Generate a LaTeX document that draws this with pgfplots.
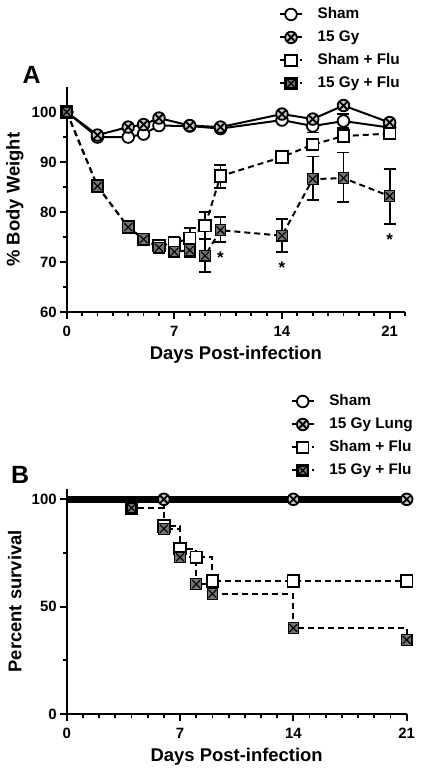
\documentclass[border=0pt]{standalone}
\usepackage{fontspec}
\setmainfont{Liberation Sans}
\usepackage{pgfplots}
\pgfplotsset{compat=1.18}
\pgfdeclareplotmark{xcirc}{%
  \pgfpathcircle{\pgfpointorigin}{\pgfplotmarksize}\pgfusepathqfillstroke
  \pgfpathmoveto{\pgfpoint{-0.707\pgfplotmarksize}{-0.707\pgfplotmarksize}}%
  \pgfpathlineto{\pgfpoint{0.707\pgfplotmarksize}{0.707\pgfplotmarksize}}%
  \pgfpathmoveto{\pgfpoint{-0.707\pgfplotmarksize}{0.707\pgfplotmarksize}}%
  \pgfpathlineto{\pgfpoint{0.707\pgfplotmarksize}{-0.707\pgfplotmarksize}}%
  \pgfusepathqstroke}
\pgfdeclareplotmark{xsq}{%
  \pgfpathrectangle{\pgfpoint{-\pgfplotmarksize}{-\pgfplotmarksize}}{\pgfpoint{2\pgfplotmarksize}{2\pgfplotmarksize}}\pgfusepathqfillstroke
  \pgfsetlinewidth{1.1bp}%
  \pgfpathmoveto{\pgfpoint{-0.75\pgfplotmarksize}{-0.75\pgfplotmarksize}}%
  \pgfpathlineto{\pgfpoint{0.75\pgfplotmarksize}{0.75\pgfplotmarksize}}%
  \pgfpathmoveto{\pgfpoint{-0.75\pgfplotmarksize}{0.75\pgfplotmarksize}}%
  \pgfpathlineto{\pgfpoint{0.75\pgfplotmarksize}{-0.75\pgfplotmarksize}}%
  \pgfusepathqstroke}
\pgfplotsset{
  gp/.style={
    scale only axis, clip=false,
    axis lines=left, axis line style={-, line width=2.2bp},
    tick align=outside, major tick length=6.5bp, minor tick length=4bp,
    tick style={black, line width=1.8bp},
    tick label style={font=\fontsize{15}{18}\selectfont\bfseries},
    xticklabel style={yshift=-4bp},
    /pgf/number format/assume math mode=true,
    every axis x label/.style={at={(rel axis cs:0.5,-0.19)}, anchor=center, font=\fontsize{18.5}{22}\selectfont\bfseries},
    every axis y label/.style={at={(rel axis cs:-0.153,0.5)}, anchor=center, rotate=90, font=\fontsize{18.5}{22}\selectfont\bfseries},
    legend cell align=left,
    legend style={draw=none, fill=none, inner sep=0pt, outer sep=0pt, anchor=north west,
      font=\fontsize{15.4}{18}\selectfont\bfseries,
      nodes={inner sep=4.5bp, text height=11bp, text depth=3bp},
      /tikz/every odd column/.append style={column sep=10bp}},
    legend image code/.code={\draw[mark repeat=2, mark phase=2, ##1] plot coordinates {(0bp,0bp)(11bp,0bp)(22bp,0bp)};},
  },
  dashp/.style={dash pattern=on 6bp off 4bp},
  ocirc/.style={mark=*, mark size=5.8bp, mark options={solid, fill=white, line width=1.8bp}},
  xcircm/.style={mark=xcirc, mark size=5.8bp, mark options={solid, fill=gray!45, line width=1.8bp}},
  osq/.style={mark=square*, mark size=5.8bp, mark options={solid, fill=white, line width=1.8bp}},
  xsqm/.style={mark=xsq, mark size=5.3bp, mark options={solid, fill=black!55, line width=2.8bp}},
  eb/.style={error bars/.cd, y dir=both, y explicit,
    error bar style={solid, line width=1.8bp},
    error mark options={rotate=90, mark size=6bp, line width=1.8bp}},
}
\begin{document}
\begin{tikzpicture}
\path[use as bounding box, fill=white] (0,0) rectangle (421bp,-774bp);
% ---------------- Panel A ----------------
\begin{axis}[gp,
  at={(66.7bp,-312.3bp)}, anchor=south west,
  width=338.3bp, height=225.3bp,
  xmin=0, xmax=22, ymin=60, ymax=105,
  xtick={0,7,14,21}, ytick={60,70,80,90,100},
  minor xtick={1,...,22}, minor ytick={65,75,85,95},
  xlabel={Days Post-infection}, ylabel={\% Body Weight},
  legend style={at={(0.6276,1.373)}},
]
\addplot[black, line width=2bp, ocirc, eb] coordinates {
 (0,100) (2,95.0) (4,95.0) (5,95.6) (6,97.3) (8,97.2) (10,96.7)
 (14,98.4) (16,97.2) +-(0,1.3) (18,98.2) +-(0,1.4) (21,96.9)};
\addlegendentry{Sham}
\addplot[black, line width=2bp, xcircm, eb] coordinates {
 (0,100) (2,95.4) (4,97.0) (5,97.5) (6,98.8) (8,97.3) (10,97.0)
 (14,99.6) (16,98.6) (18,101.3) (21,97.9)};
\addlegendentry{15 Gy}
\addplot[black, line width=2bp, dashp, osq, eb] coordinates {
 (0,100) (2,85.2) (4,77.0) (5,74.6) (6,73.3) (7,73.8) +-(0,1.2)
 (8,74.8) +-(0,2.0) (9,77.3) +-(0,2.7) (10,87.2) +-(0,2.3)
 (14,91.0) +-(0,1.0) (16,93.5) +-(0,1.2) (18,95.2) +-(0,1.3) (21,95.7) +-(0,0.8)};
\addlegendentry{Sham + Flu}
\addplot[black, line width=2bp, dashp, xsqm, eb] coordinates {
 (0,100) (2,85.2) (4,77.0) (5,74.6) (6,72.9) (7,72.1) (8,72.4) +-(0,1.3)
 (9,71.3) +=(0,3.4) -=(0,3.2) (10,76.4) +=(0,2.6) -=(0,2.4)
 (14,75.3) +=(0,3.3) -=(0,3.2) (16,86.6) +=(0,4.5) -=(0,4.1)
 (18,86.8) +=(0,5.1) -=(0,4.8) (21,83.2) +=(0,5.5) -=(0,5.5)};
\addlegendentry{15 Gy + Flu}
\node[font=\fontsize{17}{18}\selectfont\bfseries] at (axis cs:10,70.9) {*};
\node[font=\fontsize{17}{18}\selectfont\bfseries] at (axis cs:14,68.9) {*};
\node[font=\fontsize{17}{18}\selectfont\bfseries] at (axis cs:21,74.6) {*};
\end{axis}
\node[font=\fontsize{25}{30}\selectfont\bfseries] at (31.7bp,-75bp) {A};
% ---------------- Panel B ----------------
\begin{axis}[gp,
  at={(66.7bp,-714bp)}, anchor=south west,
  width=340bp, height=225.4bp,
  xmin=0, xmax=21, ymin=0, ymax=105,
  xtick={0,7,14,21}, ytick={0,50,100},
  minor xtick={1,...,20}, minor ytick={25,75},
  xlabel={Days Post-infection}, ylabel={Percent survival},
  legend style={at={(0.659,1.4375)}},
]
\addlegendimage{black, solid, line width=2bp, ocirc}
\addlegendimage{black, solid, line width=2bp, xcircm}
\addlegendimage{black, dashp, line width=2bp, osq}
\addlegendimage{black, dashp, line width=2bp, xsqm}
\legend{Sham, 15 Gy Lung, Sham + Flu, 15 Gy + Flu}
\addplot[forget plot, black, const plot, dashp, line width=2bp] coordinates {
 (0,100) (6,87.5) (7,77) (8,73) (9,62) (21,62)};
\addplot[forget plot, black, const plot, dashp, line width=2bp] coordinates {
 (0,100) (4,96) (6,86.3) (7,73) (8,60.5) (9,56) (14,40) (21,34.5)};
\addplot[forget plot, black, line width=6.5bp] coordinates {(0,100) (21,100)};
\addplot[forget plot, black, only marks, osq] coordinates {
 (6,87.5) (7,77) (8,73) (9,62) (14,62) (21,62)};
\addplot[forget plot, black, only marks, xsqm] coordinates {
 (4,96) (6,86.3) (7,73) (8,60.5) (9,56) (14,40) (21,34.5)};
\addplot[forget plot, black, only marks, xcircm] coordinates {
 (6,100) (14,100) (21,100)};
\end{axis}
\node[font=\fontsize{25}{30}\selectfont\bfseries] at (20bp,-475bp) {B};
\end{tikzpicture}
\end{document}
